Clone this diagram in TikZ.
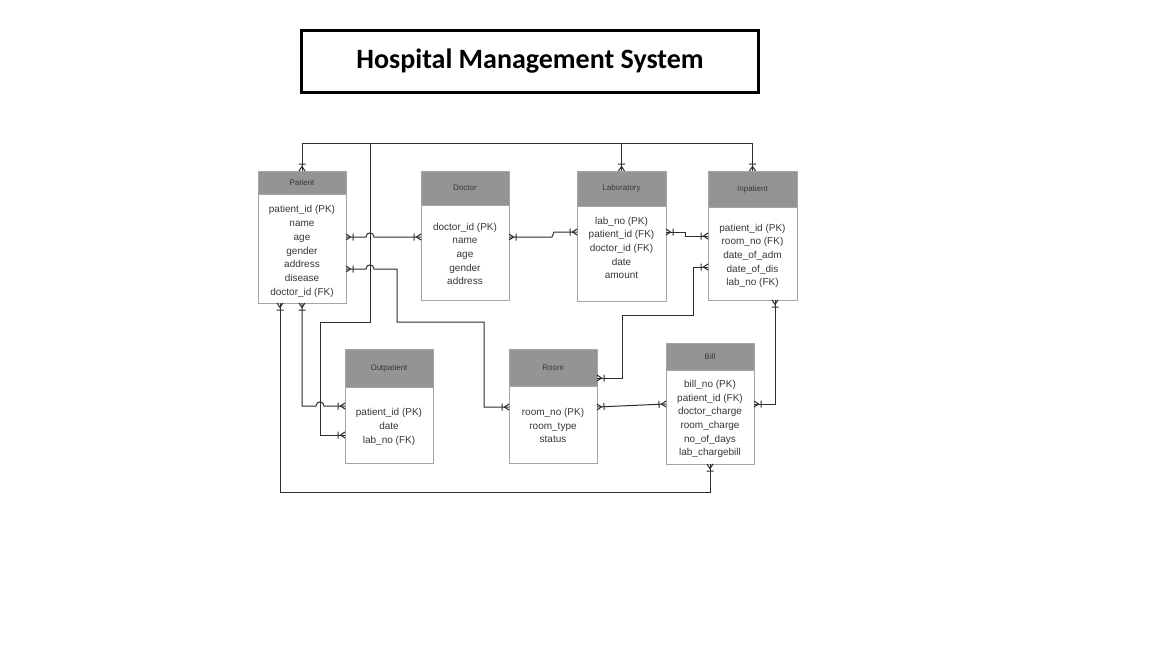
\documentclass[tikz,border=0pt]{standalone}
\usepackage{fontspec}
\setmainfont{Liberation Sans}
\newfontfamily\titlefont{Carlito}
\usetikzlibrary{arrows.meta}
\definecolor{hdrfill}{RGB}{148,148,148}
\definecolor{boxline}{RGB}{165,165,165}
\definecolor{txt}{RGB}{55,55,55}
\definecolor{conncol}{RGB}{45,45,45}
\pgfdeclarearrow{
  name=CF,
  setup code={
    \pgfarrowssettipend{0pt}
    \pgfarrowssetlineend{0pt}
    \pgfarrowssetbackend{-8pt}
    \pgfarrowshullpoint{0pt}{3.5pt}
    \pgfarrowshullpoint{0pt}{-3.5pt}
    \pgfarrowshullpoint{-8pt}{0pt}
  },
  drawing code={
    \pgfsetdash{}{0pt}
    \pgfpathmoveto{\pgfqpoint{0pt}{3pt}}
    \pgfpathlineto{\pgfqpoint{-4.5pt}{0pt}}
    \pgfpathlineto{\pgfqpoint{0pt}{-3pt}}
    \pgfpathmoveto{\pgfqpoint{-7pt}{3.5pt}}
    \pgfpathlineto{\pgfqpoint{-7pt}{-3.5pt}}
    \pgfusepathqstroke
  }
}
\newcommand\erbox[9]{%
  \node[hdr, minimum width=#4pt, minimum height=#5pt] (#1H) at (#2,#3) {#7};
  \node[bodybox, minimum width=#4pt, minimum height=#6pt] (#1) at (#1H.south west) {};
  \node[bodytext, yshift=-#9pt] (#1T) at (#1.center) {#8};
}
\begin{document}
\begin{tikzpicture}[x=1pt,y=-1pt,
  hdr/.style={draw=boxline, fill=hdrfill, line width=0.8pt, anchor=north west, inner sep=0pt, outer sep=0pt, font=\fontsize{8}{9}\selectfont, text=txt},
  bodybox/.style={draw=boxline, fill=white, line width=0.8pt, anchor=north west, inner sep=0pt, outer sep=0pt},
  bodytext/.style={inner sep=0pt, align=center, font=\fontsize{10}{13.7}\selectfont, text=txt},
  conn/.style={draw=conncol, line width=1pt, line join=miter},
  titlebox/.style={draw=black, line width=3pt, minimum width=457pt, minimum height=62pt, inner sep=0pt, font=\titlefont\bfseries\fontsize{28}{32}\selectfont}
]
\fill[white] (0,0) rectangle (1152,648);
\useasboundingbox (0,0) rectangle (1152,648);
\node[titlebox] (title) at (530,61.5) {\raisebox{-1.5pt}{Hospital Management System}};

\erbox{patient}{258}{171}{88}{23}{109}{Patient}{patient\_id (PK)\\name\\age\\gender\\address\\disease\\doctor\_id (FK)}{3}
\erbox{doctor}{421}{171}{88}{34}{95}{Doctor}{doctor\_id (PK)\\name\\age\\gender\\address}{1.5}
\erbox{lab}{577}{171}{89}{35}{95}{Laboratory}{lab\_no (PK)\\patient\_id (FK)\\doctor\_id (FK)\\date\\amount}{-5.5}
\erbox{inp}{708}{171}{89}{36}{93}{Inpatient}{patient\_id (PK)\\room\_no (FK)\\date\_of\_adm\\date\_of\_dis\\lab\_no (FK)}{2.5}
\erbox{outp}{345}{349}{88}{38}{76}{Outpatient}{patient\_id (PK)\\date\\lab\_no (FK)}{2}
\erbox{room}{509}{349}{88}{37}{77}{Room}{room\_no (PK)\\room\_type\\status}{1}
\erbox{bill}{666}{343}{88}{27}{94}{Bill}{bill\_no (PK)\\patient\_id (FK)\\doctor\_charge\\room\_charge\\no\_of\_days\\lab\_chargebill}{2}

\coordinate (j1) at (370,143);
\draw[conn,CF-CF] (patientH.north) |- (inpH.north |- j1) -- (inpH.north);
\draw[conn,-CF] (labH.north |- j1) -- (labH.north);
\draw[conn,-CF] (j1) -- (370,322) -| (320,435) -- (outp.west |- 0,435);

\draw[conn,CF-CF] (patient.east |- 0,237) -- (366,237) .. controls (366,231.5) and (374,231.5) .. (374,237) -- (doctor.west |- 0,237);
\draw[conn,CF-CF] (patient.east |- 0,269) -- (366,269) .. controls (366,263.5) and (374,263.5) .. (374,269) -- (397,269) -- (397,322) -- (484,322) -- (484,407) -- (room.west |- 0,407);
\draw[conn,CF-CF] (doctor.east |- 0,237) -- (552,237) -- (554,232) -- (lab.west |- 0,232);
\draw[conn,CF-CF] (lab.east |- 0,232) -- (685,232) -- (685,236) -- (inp.west |- 0,236);
\draw[conn,CF-CF] (inp.west |- 0,267) -- (693,267) -- (693,315) -- (622,315) -- (622,378) -- (room.east |- 0,378);
\draw[conn,CF-CF] (room.east |- 0,407) -- (bill.west |- 0,404);
\draw[conn,CF-CF] (bill.east |- 0,404) -| (inp.south -| 775,0);
\draw[conn,CF-CF] (bill.south) |- (280,492) -- (patient.south -| 280,0);
\draw[conn,CF-CF] (patient.south) |- (316,406) .. controls (316,400.5) and (324,400.5) .. (324,406) -- (outp.west |- 0,406);
\end{tikzpicture}
\end{document}
